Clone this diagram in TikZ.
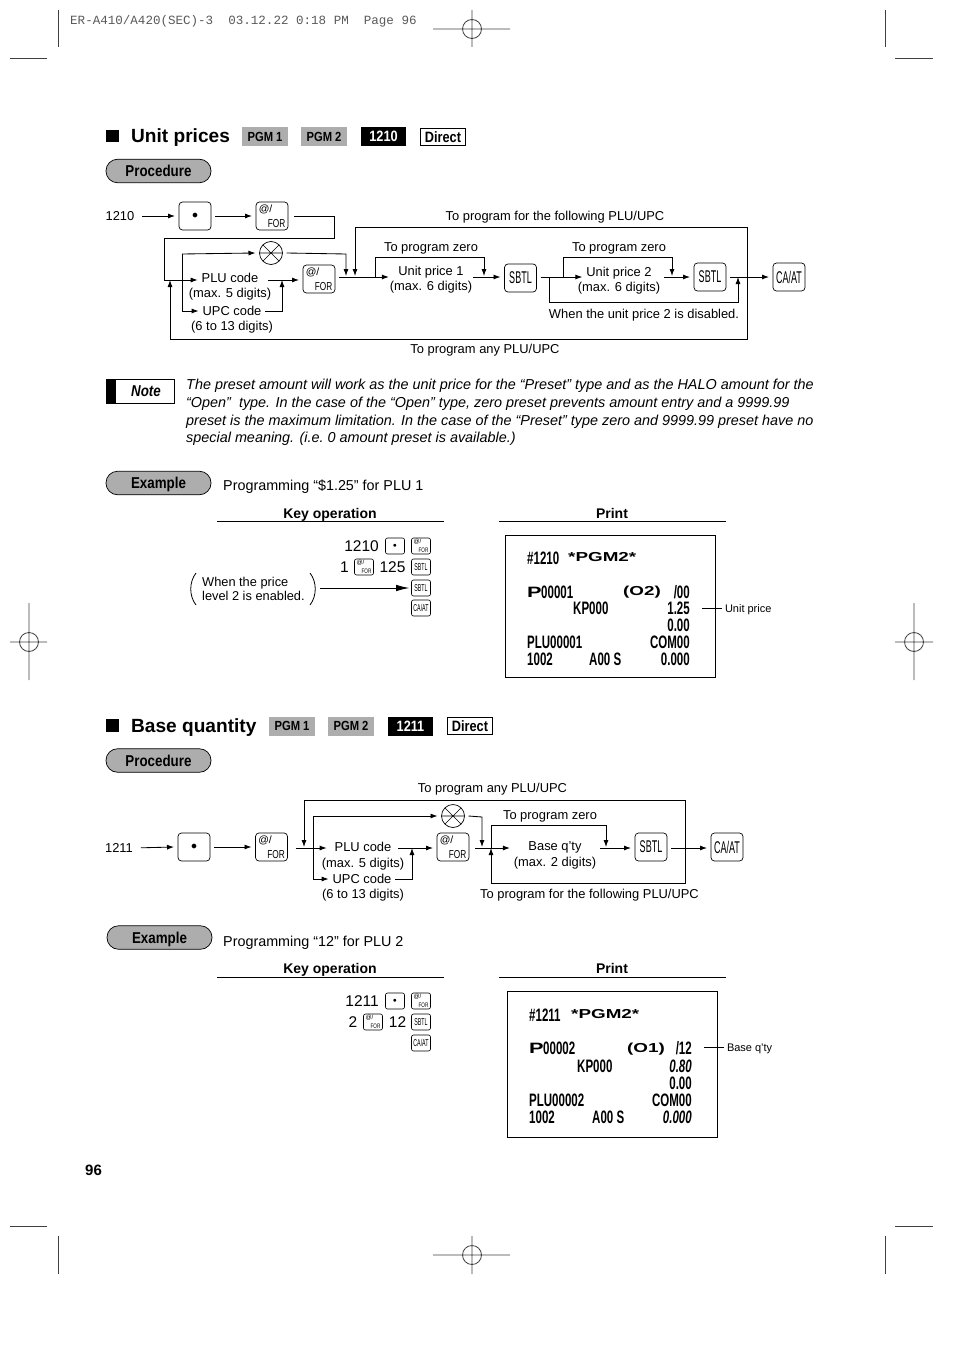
\documentclass[tikz,border=0pt]{standalone}
\usepackage{fontspec}
\usepackage{graphicx}
\usetikzlibrary{arrows.meta}
\setmainfont{Liberation Sans}
\newfontfamily\cond[FakeStretch=0.72]{Liberation Sans}
\newfontfamily\tagf[FakeStretch=0.85]{Liberation Sans}
\newfontfamily\condk[FakeStretch=0.53]{Liberation Sans}
\newfontfamily\rcpt[FakeStretch=0.64]{Liberation Sans}
\newfontfamily\wide[FakeStretch=1.45]{Liberation Sans}
\newfontfamily\typew{Liberation Mono}
\newcommand\fs[1]{\fontsize{#1}{#1}\selectfont}
\newcommand\forbig{\fs{10.5}\rmfamily @/\\[-1.5pt]\hspace*{9pt}\fs{11.5}\cond FOR}
\newcommand\forsmall{\fs{6}\rmfamily @/\\[-1pt]\hspace*{5pt}\fs{6.5}\cond FOR}
\tikzset{
  ln/.style={line width=0.85pt,black},
  arr/.style={ln,-{Latex[length=7pt,width=5pt]}},
  lbl/.style={font=\fs{12.9},inner sep=0pt,outer sep=4pt,text height=9.3pt,text depth=0pt},
  keybox/.style={draw,line width=0.7pt,rounded corners=3.5pt,minimum width=32pt,minimum height=28pt,inner sep=0pt,outer sep=4pt,align=left,text depth=0pt},
  skey/.style={draw,line width=0.6pt,rounded corners=2pt,minimum width=19pt,minimum height=16pt,inner sep=0pt,align=left},
  kbig/.style={keybox,font=\fs{17}\condk},
  ksmall/.style={skey,font=\fs{10}\condk},
  pill/.style={draw,line width=0.7pt,fill=black!32,rounded corners=11.5pt,minimum width=105pt,minimum height=23.5pt,inner sep=0pt,font=\fs{15.7}\tagf\bfseries,text height=11.5pt,text depth=0pt},
  tagbox/.style={minimum width=46pt,minimum height=19pt,inner sep=0pt,text depth=0pt},
  tagg/.style={tagbox,fill=black!32,font=\fs{13.2}\tagf\bfseries,text height=9.5pt},
  tagk/.style={tagbox,fill=black,text=white,minimum width=45pt,font=\fs{15}\tagf\bfseries,text height=11pt},
  tagd/.style={tagbox,draw,line width=0.9pt,minimum width=45pt,minimum height=17.5pt,font=\fs{15}\tagf\bfseries,text height=11pt},
  head/.style={font=\fs{19.1}\bfseries,anchor=west,inner sep=0pt,text height=14pt,text depth=0pt},
  subhead/.style={font=\fs{14}\bfseries,inner sep=0pt,text height=10pt,text depth=0pt},
  para/.style={font=\fs{14.4}\itshape,anchor=west,inner sep=0pt,text height=10pt,text depth=0pt},
  prog/.style={font=\fs{14.35},anchor=west,inner sep=0pt,text height=10pt,text depth=0pt},
  keyt/.style={font=\fs{15.5},inner sep=0pt,text height=11pt,text depth=0pt},
  rc/.style={font=\fs{18}\rcpt\bfseries,inner sep=0pt,anchor=west,text height=13pt,text depth=0pt},
  rcr/.style={rc,anchor=east},
  rw/.style={font=\fs{13}\wide\bfseries,inner sep=0pt,anchor=west,text height=9pt,text depth=0pt},
  rp/.style={font=\fs{15}\wide\bfseries,inner sep=0pt,anchor=west,text height=11pt,text depth=0pt},
  crop/.style={line width=0.8pt,black!75},
  xsym/.style={draw,circle,line width=0.7pt,minimum size=23pt,inner sep=0pt,outer sep=4pt,
    path picture={\draw[line width=0.6pt] (path picture bounding box.north west)--(path picture bounding box.south east)
      (path picture bounding box.north east)--(path picture bounding box.south west)
      (path picture bounding box.west)--(path picture bounding box.east);}},
  small/.style={font=\fs{11},inner sep=0pt,outer sep=3pt,anchor=west,text height=8pt,text depth=0pt},
  enab/.style={font=\fs{12.8},anchor=west,inner sep=0pt,text height=9.3pt,text depth=0pt}
}
\begin{document}
\begin{tikzpicture}[x=1pt,y=-1pt]
\useasboundingbox (0,0) rectangle (954,1351);
% crop marks and job line
\node[font=\fs{12.55}\typew,text=black!65,anchor=west,inner sep=0pt,text height=9pt,text depth=0pt] (job) at (70,20) {ER-A410/A420(SEC)-3\ \ 03.12.22 0:18 PM\ \ Page 96};
\draw[crop] (58,10)--(58,47) (10,58)--(47,58) (885,10)--(885,47) (895,58)--(933,58)
  (58,1236)--(58,1274) (10,1226)--(47,1226) (885,1236)--(885,1274) (895,1226)--(933,1226);
\draw[crop] (472,29) circle (9.5pt) (472,10)--(472,47) (433,29)--(510,29);
\draw[crop] (472,1255) circle (9.5pt) (472,1236)--(472,1274) (433,1255)--(510,1255);
\draw[crop] (29,642) circle (9.5pt) (29,603)--(29,680) (10,642)--(47,642);
\draw[crop] (914,642) circle (9.5pt) (914,603)--(914,680) (895,642)--(933,642);
% ---------- Unit prices header
\fill (105.5,130) rectangle (118.5,142.5);
\node[head] (h1) at (131,136) {Unit prices};
\node[tagg] (p11) at (265,136.5) {PGM 1};
\node[tagg] (p12) at (324,136.5) {PGM 2};
\node[tagk] (c1) at (383.5,136.5) {1210};
\node[tagd] (d1) at (443,137) {Direct};
\node[pill] (proc1) at (158.5,171) {Procedure};
% diagram 1
\coordinate (y1) at (0,280);
\coordinate (y2) at (0,277);
\node[lbl,outer sep=0pt] (t1210) at (120,216) {1210};
\node[kbig] (k1) at (195,216) {\fs{12}$\bullet$};
\node[kbig] (k2) at (272,216) {\forbig};
\node[xsym] (x1) at (271,253) {};
\node[lbl] (plu) at (230,278) {PLU code};
\node[lbl] (plub) at (230,293) {(max. 5 digits)};
\node[lbl] (upc) at (232,311) {UPC code};
\node[lbl] (upcb) at (232,326) {(6 to 13 digits)};
\node[kbig] (k3) at (319,279) {\forbig};
\node[lbl] (zero1) at (431,247) {To program zero};
\node[lbl] (up1) at (431,271) {Unit price 1};
\node[lbl,outer sep=1pt] (up1b) at (431,286) {(max. 6 digits)};
\node[kbig] (k4) at (520.5,278) {SBTL};
\node[lbl] (zero2) at (619,247) {To program zero};
\node[lbl] (up2) at (619,272) {Unit price 2};
\node[lbl] (up2b) at (619,287) {(max. 6 digits)};
\node[kbig] (k5) at (710,277) {SBTL};
\node[kbig] (k6) at (789,277) {CA/AT};
\node[lbl] (follow1) at (555,216) {To program for the following PLU/UPC};
\node[lbl] (disab) at (644,314) {When the unit price 2 is disabled.};
\node[lbl] (any1) at (485,349) {To program any PLU/UPC};
\coordinate (jca) at (747,277);
\coordinate (ja) at (346,277);
\coordinate (jb) at (355,277);
\coordinate (jc) at (375,277);
\coordinate (jd) at (484,277);
\coordinate (je) at (563,277);
\coordinate (jf) at (549,277);
\coordinate (jg) at (672,277);
\coordinate (jh) at (738,277);
\coordinate (ji) at (170,280);
\coordinate (jj) at (282,280);
\draw[arr,shorten <=8pt] (t1210.east) -- (k1.west);
\draw[arr] (k1.east) -- (k2.west);
\draw[arr,shorten <=2pt] (k2.east) -- (334,216) -- (334,238) -- (164,238) -- (164,280) -- (plu.west |- y1);
\draw[arr] (182,254) -- (x1.west);
\draw[arr] (182,254) -- (182,311) -- (upc.west);
\draw[arr] (upc.east) -- (282,311) -- (jj);
\draw[arr,shorten <=6pt] (plu.east |- y1) -- (k3.west |- y1);
\draw[arr,shorten >=1pt] (x1.east) -- (346,254) -- (ja);
\draw[arr] (k3.east |- y2) -- (up1b.west |- y2);
\draw[arr,shorten >=1pt] (jca) -- (747,227) -- (355,227) -- (jb);
\draw[arr] (jca) -- (747,339) -- (170,339) -- (ji);
\draw[arr,shorten >=1pt] (jc) -- (375,257) -- (484,257) -- (jd);
\draw[arr] (up1b.east |- y2) -- (k4.west |- y2);
\draw[arr] (k4.east |- y2) -- (up2.west |- y2);
\draw[arr,shorten >=1pt] (je) -- (563,257) -- (672,257) -- (jg);
\draw[arr] (jf) -- (549,302) -- (738,302) -- (jh);
\draw[arr] (up2b.east |- y2) -- (k5.west);
\draw[arr] (k5.east) -- (k6.west);
% Note
\draw[line width=0.8pt,fill=white] (106.5,379.5) rectangle (174.5,403);
\fill (106,379) rectangle (116,403.5);
\node[font=\fs{15.7}\tagf\bfseries\itshape,inner sep=0pt,text height=11.5pt,text depth=0pt] (note) at (146,391) {Note};
\node[para] (n1) at (186,384) {The preset amount will work as the unit price for the “Preset” type and as the HALO amount for the};
\node[para] (n2) at (186,402) {“Open”\ \ type. In the case of the “Open” type, zero preset prevents amount entry and a 9999.99};
\node[para] (n3) at (186,420) {preset is the maximum limitation. In the case of the “Preset” type zero and 9999.99 preset have no};
\node[para] (n4) at (186,437) {special meaning. (i.e.\ 0 amount preset is available.)};
% Example 1
\node[pill] (ex1) at (158.5,483) {Example};
\node[prog] (ext1) at (223,485) {Programming “\$1.25” for PLU 1};
\node[subhead] (ko1) at (330,513) {Key operation};
\node[subhead] (pr1) at (612,513) {Print};
\draw[ln] (217,521.5) -- (444,521.5) (499,521.5) -- (726,521.5);
\node[keyt,anchor=east] (a1) at (379,546) {1210};
\node[ksmall] (a2) at (395,546) {\fs{7}$\bullet$};
\node[ksmall] (a3) at (421,546) {\forsmall};
\node[keyt] (a4) at (344.5,567) {1};
\node[ksmall] (a5) at (364,567) {\forsmall};
\node[keyt] (a6) at (392.5,567) {125};
\node[ksmall] (a7) at (421,567) {SBTL};
\node[ksmall] (a8) at (421,588) {SBTL};
\node[ksmall] (a9) at (421,608) {CA/AT};
\node[enab] (en1) at (202,582) {When the price};
\node[enab] (en2) at (202,596) {level 2 is enabled.};
\draw[line width=0.8pt] (196,573) .. controls (189,582) and (189,596) .. (196,605);
\draw[line width=0.8pt] (310,573) .. controls (317,582) and (317,596) .. (310,605);
\coordinate (enr) at (320,588);
\draw[line width=0.85pt,-{Latex[length=13pt,width=6.5pt]},shorten >=2pt] (enr) -- (a8.west);
% Receipt 1
\node[draw,line width=0.8pt,minimum width=210pt,minimum height=142pt,inner sep=0pt] (r1) at (610,606) {};
\node[rc] (r1a) at (527,558) {\#1210};
\node[rw] (r1b) at (568,557) {*PGM2*};
\node[rp] (r1c) at (527,592) {P};
\node[rc] (r1d) at (541,592) {00001};
\node[rw] (r1e) at (623,591) {(O2)};
\node[rcr] (r1f) at (690,592) {/00};
\node[rc] (r1g) at (573,608) {KP000};
\node[rcr] (r1h) at (690,608) {1.25};
\node[rcr] (r1i) at (690,625) {0.00};
\node[rc] (r1j) at (527,642) {PLU00001};
\node[rcr] (r1k) at (690,642) {COM00};
\node[rc] (r1l) at (527,659) {1002};
\node[rc] (r1m) at (589,659) {A00 S};
\node[rcr] (r1n) at (690,659) {0.000};
\node[small] (r1o) at (722,608) {Unit price};
\draw[ln] (702,608) -- (r1o.west);
% ---------- Base quantity
\fill (105.5,719) rectangle (118.5,731.5);
\node[head] (h2) at (131,725) {Base quantity};
\node[tagg] (p21) at (292,726) {PGM 1};
\node[tagg] (p22) at (351,726) {PGM 2};
\node[tagk] (c2) at (410.5,726) {1211};
\node[tagd] (d2) at (470,726) {Direct};
\node[pill] (proc2) at (158.5,760.5) {Procedure};
% diagram 2
\coordinate (y3) at (0,848);
\node[lbl,outer sep=0pt] (t1211) at (119,848) {1211};
\node[kbig] (m1) at (194,847) {\fs{12}$\bullet$};
\node[kbig] (m2) at (271.5,847) {\forbig};
\node[xsym] (x2) at (453,816) {};
\node[lbl] (plu2) at (363,847) {PLU code};
\node[lbl] (plu2b) at (363,863) {(max. 5 digits)};
\node[lbl] (upc2) at (362,879) {UPC code};
\node[lbl] (upc2b) at (363,894) {(6 to 13 digits)};
\node[kbig] (m3) at (453,847) {\forbig};
\node[lbl] (zero3) at (550,815) {To program zero};
\node[lbl] (bq) at (555,846) {Base q'ty};
\node[lbl] (bqb) at (555,862) {(max. 2 digits)};
\node[kbig] (m4) at (651,847) {SBTL};
\node[kbig] (m5) at (727,847) {CA/AT};
\node[lbl] (any2) at (492.5,788) {To program any PLU/UPC};
\node[lbl] (follow2) at (589.5,894) {To program for the following PLU/UPC};
\coordinate (kb) at (313,848);
\coordinate (kc) at (304,848);
\coordinate (kd) at (412,848);
\coordinate (ke) at (482,848);
\coordinate (kf) at (491,848);
\coordinate (kg) at (606,848);
\coordinate (kh) at (685,848);
\draw[arr,shorten <=8pt] (t1211.east) -- (m1.west);
\draw[arr] (m1.east) -- (m2.west);
\draw[arr,shorten <=4pt,shorten >=4pt] (m2.east |- y3) -- (plu2.west |- y3);
\draw[arr] (kb) -- (313,816) -- (x2.west);
\draw[arr] (kb) -- (313,879) -- (upc2.west);
\draw[arr,shorten >=1pt] (kh) -- (685,800) -- (304,800) -- (kc);
\draw[arr] (kh) -- (685,883.5) -- (491,883.5) -- (kf);
\draw[arr,shorten <=3pt] (plu2.east |- y3) -- (m3.west |- y3);
\draw[arr] (upc2.east) -- (412,879) -- (kd);
\draw[arr,shorten >=1pt] (x2.east) -- (482,817) -- (ke);
\draw[arr,shorten <=2pt] (m3.east |- y3) -- (bqb.west |- y3);
\draw[arr,shorten >=1pt] (kf) -- (491,825) -- (606,825) -- (kg);
\draw[arr] (bqb.east |- y3) -- (m4.west |- y3);
\draw[arr] (m4.east |- y3) -- (m5.west |- y3);
% Example 2
\node[pill] (ex2) at (159.5,937.5) {Example};
\node[prog] (ext2) at (223,941) {Programming “12” for PLU 2};
\node[subhead] (ko2) at (330,968) {Key operation};
\node[subhead] (pr2) at (612,968) {Print};
\draw[ln] (217,977.5) -- (444,977.5) (499,977.5) -- (726,977.5);
\node[keyt,anchor=east] (b1) at (379,1001) {1211};
\node[ksmall] (b2) at (395,1001) {\fs{7}$\bullet$};
\node[ksmall] (b3) at (421,1001) {\forsmall};
\node[keyt] (b4) at (353,1022) {2};
\node[ksmall] (b5) at (373,1022) {\forsmall};
\node[keyt] (b6) at (397.5,1022) {12};
\node[ksmall] (b7) at (421,1022) {SBTL};
\node[ksmall] (b8) at (421,1043) {CA/AT};
% Receipt 2
\node[draw,line width=0.8pt,minimum width=210pt,minimum height=146pt,inner sep=0pt] (r2) at (612,1064.5) {};
\node[rc] (r2a) at (529,1015) {\#1211};
\node[rw] (r2b) at (571,1014) {*PGM2*};
\node[rp] (r2c) at (529,1048) {P};
\node[rc] (r2d) at (543,1048) {00002};
\node[rw] (r2e) at (627,1048) {(O1)};
\node[rcr] (r2f) at (692,1048) {/12};
\node[rc] (r2g) at (577,1066) {KP000};
\node[rcr] (r2h) at (692,1066) {\itshape 0.80};
\node[rcr] (r2i) at (692,1083) {0.00};
\node[rc] (r2j) at (529,1100) {PLU00002};
\node[rcr] (r2k) at (692,1100) {COM00};
\node[rc] (r2l) at (529,1117) {1002};
\node[rc] (r2m) at (592,1117) {A00 S};
\node[rcr] (r2n) at (692,1117) {\itshape 0.000};
\node[small] (r2o) at (724,1047) {Base q'ty};
\draw[ln] (704,1047) -- (r2o.west);
\node[font=\fs{15}\bfseries,anchor=west,inner sep=0pt] (pg) at (85,1170) {96};
\end{tikzpicture}
\end{document}
